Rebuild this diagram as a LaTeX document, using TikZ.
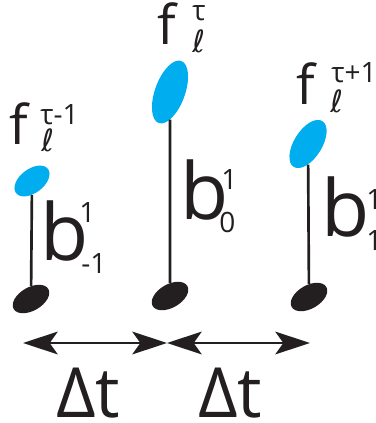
\documentclass[tikz,border=0pt]{standalone}
\usepackage{fontspec}
\setmainfont{Open Sans}
\newfontfamily\ellfont{DejaVu Sans}
\usetikzlibrary{arrows.meta,shapes.geometric}
\definecolor{headblue}{HTML}{00AEEF}
\definecolor{headblack}{HTML}{231F20}
\tikzset{
  nt/blue/.style={ellipse, fill=headblue, inner sep=0pt},
  nt/black/.style={ellipse, fill=headblack, inner sep=0pt, minimum width=30pt, minimum height=17.5pt, rotate=30},
  nt/stem/.style={draw=headblack, line width=2pt},
  nt/txt/.style={inner sep=0pt, anchor=base west, text=headblack},
  nt/b/.style={nt/txt, font=\fontsize{59}{59}\selectfont},
  nt/f/.style={nt/txt, font=\fontsize{41}{41}\selectfont},
  nt/script/.style={nt/txt, font=\fontsize{21}{21}\selectfont},
  nt/ell/.style={nt/txt, font=\ellfont\itshape\fontsize{23}{23}\selectfont},
  nt/dt/.style={nt/txt, font=\fontsize{52}{52}\selectfont},
  nt/span/.style={line width=2pt, draw=headblack, {Stealth[length=26pt,width=17pt,inset=6pt]}-{Stealth[length=26pt,width=17pt,inset=6pt]}}
}

\begin{document}
\begin{tikzpicture}[x=0.75pt,y=-0.75pt]
  \useasboundingbox (0,0) rectangle (375,423);

  % note heads and stems
  \node[nt/blue, minimum width=30pt, minimum height=18pt, rotate=37] (hm1) at (32,181) {};
  \node[nt/black] (lm1) at (31,299) {};
  \draw[nt/stem] (hm1) -- (lm1);

  \node[nt/blue, minimum width=49.5pt, minimum height=22.5pt, rotate=70] (h0) at (170,92) {};
  \node[nt/black] (l0) at (170,296) {};
  \draw[nt/stem] (h0) -- (l0);

  \node[nt/blue, minimum width=40.5pt, minimum height=21pt, rotate=58] (hp1) at (308,144) {};
  \node[nt/black] (lp1) at (309,297) {};
  \draw[nt/stem] (hp1) -- (lp1);

  % labels
  \node[nt/f] (fm1) at (9,145) {f};
  \node[nt/script] (fm1t) at (40,125) {τ-1};
  \node[nt/ell] (fm1l) at (41,152) {ℓ};
  \node[nt/b] (bm1) at (40,260) {b};
  \node[nt/script] (bm1u) at (79,223) {1};
  \node[nt/script] (bm1d) at (81,273) {-1};

  \node[nt/f] (f0) at (157,45) {f};
  \node[nt/script] (f0t) at (192,21) {τ};
  \node[nt/ell] (f0l) at (192,53) {ℓ};
  \node[nt/b] (b0) at (180,220) {b};
  \node[nt/script] (b0u) at (221,190) {1};
  \node[nt/script] (b0d) at (219,233) {0};

  \node[nt/f] (fp1) at (296,105) {f};
  \node[nt/script] (fp1t) at (331,83) {τ+1};
  \node[nt/ell] (fp1l) at (330,113) {ℓ};
  \node[nt/b] (bp1) at (321,237) {b};
  \node[nt/script] (bp1u) at (366,210) {1};
  \node[nt/script] (bp1d) at (366,250) {1};

  % time steps
  \coordinate (t0) at (23,343);
  \coordinate (t1) at (167,343);
  \coordinate (t2) at (310,343);
  \draw[nt/span] (t0) -- (t1);
  \draw[nt/span] (t1) -- (t2);
  \node[nt/dt] (dt1) at (56,417) {Δt};
  \node[nt/dt] (dt2) at (198,417) {Δt};
\end{tikzpicture}
\end{document}
